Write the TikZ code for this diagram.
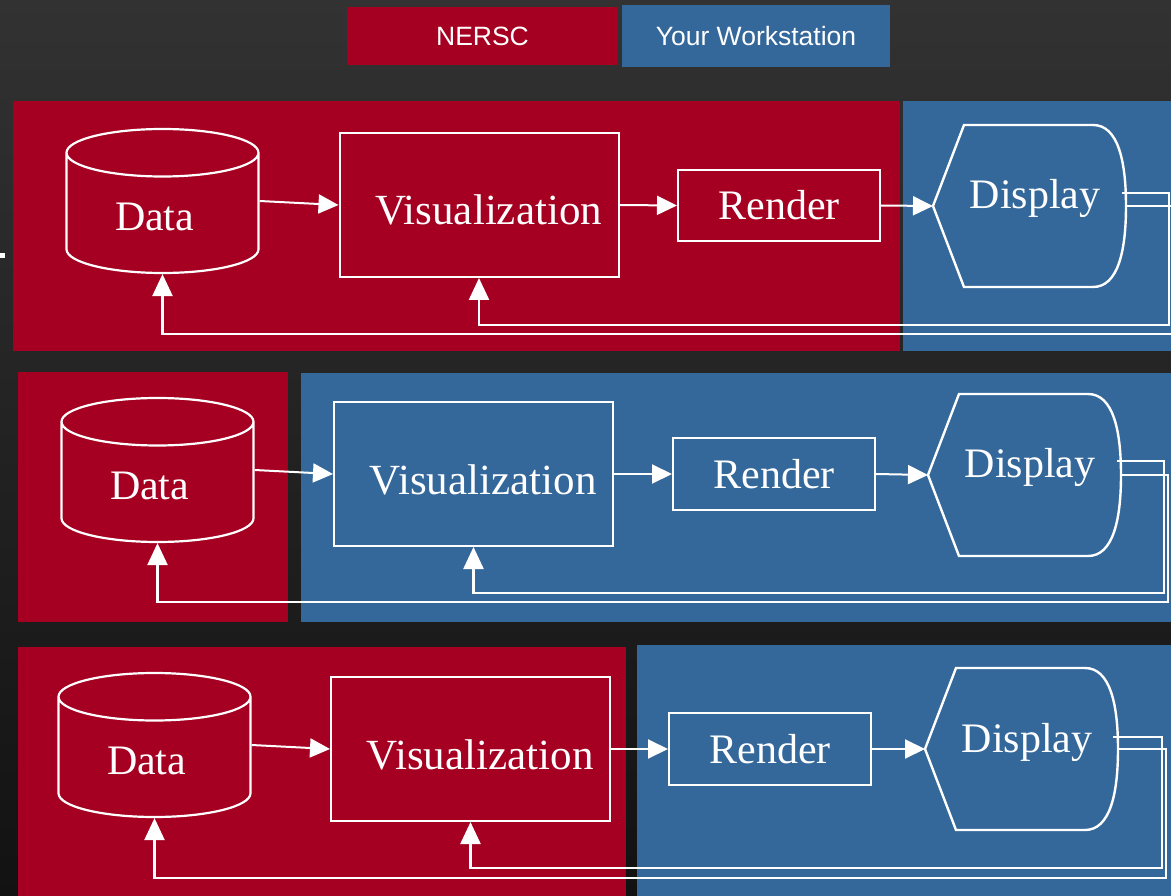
\documentclass[tikz,border=0pt]{standalone}
\usepackage{fontspec}
\setmainfont{Liberation Serif}
\newfontfamily\legendfont{Liberation Sans}
\usetikzlibrary{shapes.geometric,arrows.meta}
\definecolor{nerscred}{HTML}{A50021}
\definecolor{wsblue}{HTML}{34679A}
\definecolor{bgtop}{HTML}{323232}
\definecolor{bgbottom}{HTML}{121212}
\tikzset{
  bigtext/.style={text=white, font=\fontsize{42}{48}\selectfont},
  stagebox/.style={bigtext, draw=white, line width=2pt, inner sep=0pt},
  visbox/.style={stagebox, font=\fontsize{43}{48}\selectfont, minimum width=279pt, minimum height=144pt,
    text width=246pt, align=right, text height=40pt, text depth=0pt},
  datacyl/.style={bigtext, cylinder, shape border rotate=90, aspect=0.5, draw=white, line width=2.2pt,
    minimum width=192pt, minimum height=144pt, inner sep=0pt, anchor=shape center,
    text width=95pt, align=left, text height=34pt, text depth=0pt},
  legendbox/.style={text=white, font=\legendfont\fontsize{26.5}{30}\selectfont, inner sep=0pt},
  flow/.style={draw=white, line width=2pt, -{Triangle[length=20pt,width=19pt]}},
  back/.style={draw=white, line width=2.4pt, -{Triangle[length=22pt,width=20pt]}},
}
% outline of the display shape, from its left point
\newcommand{\dispoutline}[1]{%
  \draw[white, line width=2.4pt, shift={(#1)}] (0,0) -- (31,-81) -- (160,-81)
    .. controls (185,-81) and (193,-45) .. (193,0)
    .. controls (193,45) and (185,81) .. (160,81) -- (31,81) -- cycle;}
\begin{document}
\begin{tikzpicture}[x=1pt,y=-1pt]
\useasboundingbox (0,0) rectangle (1171,896);
\shade[top color=bgtop, bottom color=bgbottom] (0,0) rectangle (1171,896);
\fill[white] (0,253) rectangle (5,258);

% legend
\node[legendbox, fill=nerscred, minimum width=271pt, minimum height=58pt] (nersc) at (482.5,36) {NERSC};
\node[legendbox, fill=wsblue, minimum width=268pt, minimum height=62pt] (ws) at (756,36) {Your Workstation};

% row 1
\fill[nerscred] (13,101) rectangle (900,351);
\fill[wsblue] (903,101) rectangle (1171,351);
\node[datacyl] (data1) at (162.5,201) {Data};
\node[visbox] (vis1) at (479,205) {Visualization};
\node[stagebox, minimum width=202pt, minimum height=71pt] (render1) at (779,205.5) {Render};
\node[bigtext] (disp1) at (1035,198) {Display};
\coordinate (disp1in) at (933,206);
\coordinate (disp1a) at (1122,193);
\coordinate (disp1b) at (1126,206);
\dispoutline{disp1in}
\draw[flow] (data1.shape center -| data1.east) -- (vis1.west);
\draw[flow] (vis1.east) -- (render1.west);
\draw[flow] (render1.east) -- (disp1in);
\draw[back] (disp1a) -- ++(47,0) -- ++(0,132) -| (vis1.south);
\draw[back] (disp1b) -- ++(47,0) -- ++(0,128) -| (data1.south);

% row 2
\fill[nerscred] (18,372) rectangle (288,622);
\fill[wsblue] (301,373) rectangle (1171,622);
\node[datacyl] (data2) at (157.5,470) {Data};
\node[visbox] (vis2) at (473.5,474) {Visualization};
\node[stagebox, minimum width=202pt, minimum height=72pt] (render2) at (774,474) {Render};
\node[bigtext] (disp2) at (1030,467) {Display};
\coordinate (disp2in) at (928,475);
\coordinate (disp2a) at (1117,461);
\coordinate (disp2b) at (1121,475);
\dispoutline{disp2in}
\draw[flow] (data2.shape center -| data2.east) -- (vis2.west);
\draw[flow] (vis2.east) -- (render2.west);
\draw[flow] (render2.east) -- (disp2in);
\draw[back] (disp2a) -- ++(47,0) -- ++(0,132) -| (vis2.south);
\draw[back] (disp2b) -- ++(47,0) -- ++(0,127) -| (data2.south);

% row 3
\fill[nerscred] (18,647) rectangle (626,896);
\fill[wsblue] (637,645) rectangle (1171,896);
\node[datacyl] (data3) at (154.5,745) {Data};
\node[visbox] (vis3) at (470.5,749) {Visualization};
\node[stagebox, minimum width=202pt, minimum height=72pt] (render3) at (770,749) {Render};
\node[bigtext] (disp3) at (1027,742) {Display};
\coordinate (disp3in) at (925,749);
\coordinate (disp3a) at (1113,737);
\coordinate (disp3b) at (1118,749);
\dispoutline{disp3in}
\draw[flow] (data3.shape center -| data3.east) -- (vis3.west);
\draw[flow] (vis3.east) -- (render3.west);
\draw[flow] (render3.east) -- (disp3in);
\draw[back] (disp3a) -- ++(49,0) -- ++(0,131) -| (vis3.south);
\draw[back] (disp3b) -- ++(48,0) -- ++(0,129) -| (data3.south);
\end{tikzpicture}
\end{document}
